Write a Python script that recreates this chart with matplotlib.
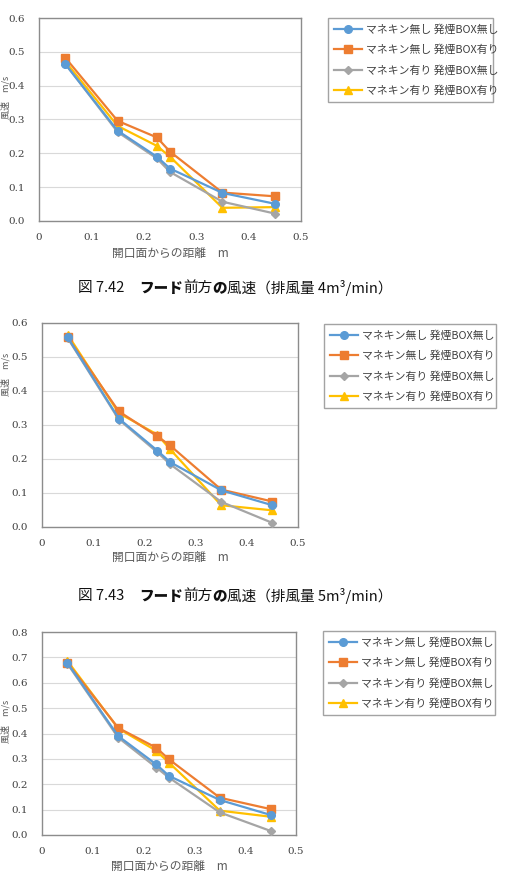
import matplotlib
matplotlib.use("Agg")
import matplotlib.pyplot as plt

plt.rcParams['font.family'] = ['Noto Sans CJK JP', 'DejaVu Sans']

# ---- data ----
distance = [0.05, 0.15, 0.225, 0.25, 0.35, 0.45]
series_names = ["マネキン無し 発煙BOX無し", "マネキン無し 発煙BOX有り",
                "マネキン有り 発煙BOX無し", "マネキン有り 発煙BOX有り"]

# 図7.42 (4 m3/min)
c1_blue   = [0.464, 0.267, 0.190, 0.155, 0.083, 0.051]
c1_orange = [0.483, 0.296, 0.247, 0.205, 0.084, 0.073]
c1_gray   = [0.465, 0.263, 0.185, 0.145, 0.057, 0.022]
c1_yellow = [0.472, 0.281, 0.222, 0.190, 0.039, 0.041]

# 図7.43 (5 m3/min)
c2_blue   = [0.558, 0.319, 0.225, 0.191, 0.108, 0.064]
c2_orange = [0.558, 0.340, 0.267, 0.240, 0.110, 0.075]
c2_gray   = [0.556, 0.316, 0.220, 0.185, 0.074, 0.012]
c2_yellow = [0.566, 0.335, 0.272, 0.229, 0.064, 0.049]

# third chart
c3_blue   = [0.678, 0.390, 0.278, 0.233, 0.138, 0.079]
c3_orange = [0.678, 0.422, 0.344, 0.298, 0.147, 0.102]
c3_gray   = [0.675, 0.384, 0.266, 0.226, 0.089, 0.016]
c3_yellow = [0.686, 0.420, 0.332, 0.285, 0.096, 0.072]

x_ticks = [0, 0.1, 0.2, 0.3, 0.4, 0.5]
x_ticklabels = ["0", "0.1", "0.2", "0.3", "0.4", "0.5"]
xlabel = "開口面からの距離　m"
ylabel = "風速　m/s"

caption1 = ["図 7.42　", "フード", "前方", "の", "風速（排風量 4m³/min）"]
caption2 = ["図 7.43　", "フード", "前方", "の", "風速（排風量 5m³/min）"]
caption_bold = [False, True, False, True, False]

colors = ["#5B9BD5", "#ED7D31", "#A5A5A5", "#FFC000"]
markers = ["o", "s", "D", "^"]
msizes = [5.5, 5.5, 4, 6]

W, H = 508, 874
fig = plt.figure(figsize=(W / 100, H / 100), dpi=100)

def fr(l, t, r, b):
    return [l / W, 1 - b / H, (r - l) / W, (b - t) / H]

charts = [
    dict(rect=fr(39, 18, 301, 221), ymax=0.6, data=[c1_blue, c1_orange, c1_gray, c1_yellow],
         leg=(323, 98, 498, 183), xl_y=253, yl=(5.5, 97)),
    dict(rect=fr(42, 323, 298, 527), ymax=0.6, data=[c2_blue, c2_orange, c2_gray, c2_yellow],
         leg=(319, 404, 501, 489), xl_y=557, yl=(5.5, 374)),
    dict(rect=fr(42, 632, 296, 835), ymax=0.8, data=[c3_blue, c3_orange, c3_gray, c3_yellow],
         leg=(318, 712, 500, 798), xl_y=866, yl=(5.5, 721)),
]

for ch in charts:
    ax = fig.add_axes(ch["rect"])
    for i, ys in enumerate(ch["data"]):
        ax.plot(distance, ys, color=colors[i], marker=markers[i], markersize=msizes[i],
                linewidth=1.6, label=series_names[i], zorder=3 + (3 - i) * 0.1)
    ax.set_xlim(0, 0.5)
    ax.set_ylim(0, ch["ymax"])
    ax.set_xticks(x_ticks)
    ax.set_xticklabels(x_ticklabels)
    yt = [round(0.1 * k, 1) for k in range(int(round(ch["ymax"] * 10)) + 1)]
    ax.set_yticks(yt)
    ax.set_yticklabels([f"{v:.1f}" for v in yt])
    ax.tick_params(axis="y", length=0, labelsize=7.5, colors="#404040", pad=10)
    ax.tick_params(axis="x", length=0, labelsize=7.5, colors="#404040", pad=9)
    for lab in ax.get_xticklabels() + ax.get_yticklabels():
        lab.set_family("DejaVu Serif")
    ax.grid(axis="y", color="#D9D9D9", linewidth=0.8)
    ax.set_axisbelow(True)
    for s in ax.spines.values():
        s.set_color("#8C8C8C")
        s.set_linewidth(1.0)
    fig.text((ch["rect"][0] + ch["rect"][2] / 2), 1 - ch["xl_y"] / H, xlabel,
             ha="center", va="center", fontsize=8.5, color="#595959")
    fig.text(ch["yl"][0] / W, 1 - ch["yl"][1] / H, ylabel, rotation=90,
             ha="center", va="center", fontsize=6.5, color="#595959")
    l, t, r, b = ch["leg"]
    leg = ax.legend(loc="upper left", bbox_to_anchor=(l / W, 1 - t / H, (r - l) / W, (b - t) / H),
                    bbox_transform=fig.transFigure, mode="expand", fontsize=7.8,
                    frameon=True, fancybox=False, edgecolor="#8C8C8C", handlelength=2.6,
                    labelspacing=0.9, borderpad=0.5, handletextpad=0.4, labelcolor="#404040")
    leg.get_frame().set_linewidth(1.0)

# captions
renderer = fig.canvas.get_renderer()

def caption(parts, x0, yc):
    x = x0 / W
    for txt, bold in zip(parts, caption_bold):
        t = fig.text(x, 1 - yc / H, txt, ha="left", va="center", fontsize=10.5,
                     fontweight="black" if bold else "normal", color="#111111")
        bb = t.get_window_extent(renderer=renderer)
        x = bb.x1 / W

caption(caption1, 78, 288)
caption(caption2, 78, 596)

fig.savefig("out.png", dpi=100)
